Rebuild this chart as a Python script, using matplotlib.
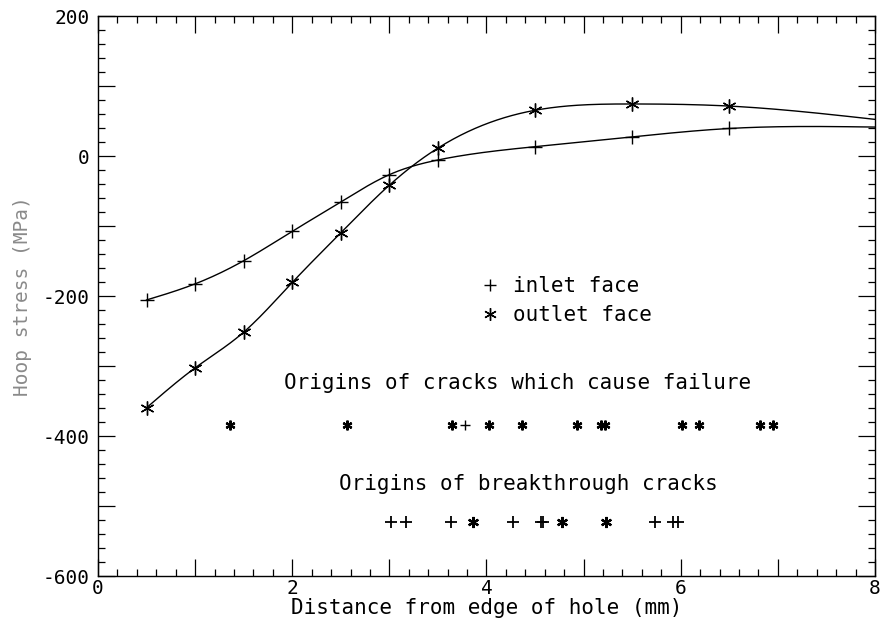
"""Hoop stress vs distance from hole edge, with crack origin rows."""
import matplotlib
matplotlib.use("Agg")
import matplotlib.pyplot as plt
import numpy as np
from matplotlib.lines import Line2D
from matplotlib.ticker import FuncFormatter, MultipleLocator

# measured points (mm, MPa)
inlet_x = [0.5, 1.0, 1.5, 2.0, 2.5, 3.0, 3.5, 4.5, 5.5, 6.5]
inlet_y = [-205, -182, -149, -107, -65, -26, -5, 14, 28, 40]
outlet_x = [0.5, 1.0, 1.5, 2.0, 2.5, 3.0, 3.5, 4.5, 5.5, 6.5]
outlet_y = [-359, -302, -251, -180, -109, -41, 12, 66, 75, 72]
# where the fitted curves leave the plot at x = 8
inlet_end = 42
outlet_end = 53

# crack origins: failure row and breakthrough row
fail_inlet_x = [3.78]
fail_outlet_x = [1.36, 2.56, 3.64, 4.03, 4.37, 4.93, 5.18, 5.22, 6.01, 6.19, 6.82, 6.95]
fail_level = -383
break_inlet_x = [3.02, 3.17, 3.63, 4.27, 4.56, 4.58, 5.74, 5.92, 5.97]
break_outlet_x = [3.86, 4.78, 5.23]
break_level = -522

plt.rcParams["font.family"] = "DejaVu Sans Mono"
plt.rcParams["axes.unicode_minus"] = False


def natural_spline(x, y, n=400):
    x = np.asarray(x, float)
    y = np.asarray(y, float)
    h = np.diff(x)
    m = len(x)
    A = np.zeros((m, m))
    b = np.zeros(m)
    A[0, 0] = A[-1, -1] = 1.0
    for i in range(1, m - 1):
        A[i, i - 1] = h[i - 1]
        A[i, i] = 2 * (h[i - 1] + h[i])
        A[i, i + 1] = h[i]
        b[i] = 6 * ((y[i + 1] - y[i]) / h[i] - (y[i] - y[i - 1]) / h[i - 1])
    M = np.linalg.solve(A, b)
    xs = np.linspace(x[0], x[-1], n)
    k = np.clip(np.searchsorted(x, xs) - 1, 0, m - 2)
    t0 = xs - x[k]
    t1 = x[k + 1] - xs
    hk = h[k]
    ys = (M[k] * t1 ** 3 + M[k + 1] * t0 ** 3) / (6 * hk) \
        + (y[k] / hk - M[k] * hk / 6) * t1 + (y[k + 1] / hk - M[k + 1] * hk / 6) * t0
    return xs, ys


star = (6, 2, 0)

fig = plt.figure(figsize=(8.81, 6.31), dpi=100)
ax = fig.add_axes([0.1112, 0.0864, 0.882, 0.8875])

xs, ys = natural_spline(inlet_x + [8.0], inlet_y + [inlet_end])
ax.plot(xs, ys, color="black", lw=1.0)
ax.plot(inlet_x, inlet_y, ls="none", marker="+", ms=10, mew=1.0, color="black")

xs, ys = natural_spline(outlet_x + [8.0], outlet_y + [outlet_end])
ax.plot(xs, ys, color="black", lw=1.0)
ax.plot(outlet_x, outlet_y, ls="none", marker=star, ms=10, mew=1.0, color="black")

ax.plot(fail_outlet_x, [fail_level] * len(fail_outlet_x), ls="none", marker=star,
        ms=7, mew=1.6, color="black")
ax.plot(fail_inlet_x, [fail_level] * len(fail_inlet_x), ls="none", marker="+",
        ms=7, mew=1.0, color="black")
ax.plot(break_inlet_x, [break_level] * len(break_inlet_x), ls="none", marker="+",
        ms=9, mew=1.3, color="black")
ax.plot(break_outlet_x, [break_level] * len(break_outlet_x), ls="none", marker=star,
        ms=8, mew=1.6, color="black")

ax.text(4.32, -324, "Origins of cracks which cause failure", ha="center", va="center",
        fontsize=15)
ax.text(4.43, -468, "Origins of breakthrough cracks", ha="center", va="center",
        fontsize=15)

handles = [
    Line2D([], [], ls="none", marker="+", ms=9, mew=1.0, color="black"),
    Line2D([], [], ls="none", marker=star, ms=9, mew=1.0, color="black"),
]
ax.legend(handles, ["inlet face", "outlet face"], loc="upper left",
          bbox_to_anchor=(0.48, 0.555), frameon=False, fontsize=15,
          handlelength=0.8, handletextpad=0.7, labelspacing=0.45, borderpad=0)

ax.set_xlim(0, 8)
ax.set_ylim(-600, 200)
ax.xaxis.set_major_locator(MultipleLocator(1))
ax.xaxis.set_minor_locator(MultipleLocator(0.2))
ax.yaxis.set_major_locator(MultipleLocator(100))
ax.yaxis.set_minor_locator(MultipleLocator(20))
# labels only every 2 mm and every 200 MPa
ax.xaxis.set_major_formatter(FuncFormatter(lambda v, p: f"{v:.0f}" if round(v) % 2 == 0 else ""))
ax.yaxis.set_major_formatter(FuncFormatter(lambda v, p: f"{v:.0f}" if round(v) % 200 == 0 else ""))
ax.tick_params(which="both", direction="in", top=True, right=True, labelsize=14, width=0.9)
ax.tick_params(which="major", length=12)
ax.tick_params(which="minor", length=5)
ax.tick_params(axis="y", pad=6)
ax.tick_params(axis="x", pad=2)

for s in ax.spines.values():
    s.set_linewidth(1.0)

ax.set_xlabel("Distance from edge of hole (mm)", fontsize=15, labelpad=0)
ax.set_ylabel("Hoop stress (MPa)", fontsize=14, color="#8a8a8a", labelpad=8)

fig.savefig("out.png", dpi=100)
